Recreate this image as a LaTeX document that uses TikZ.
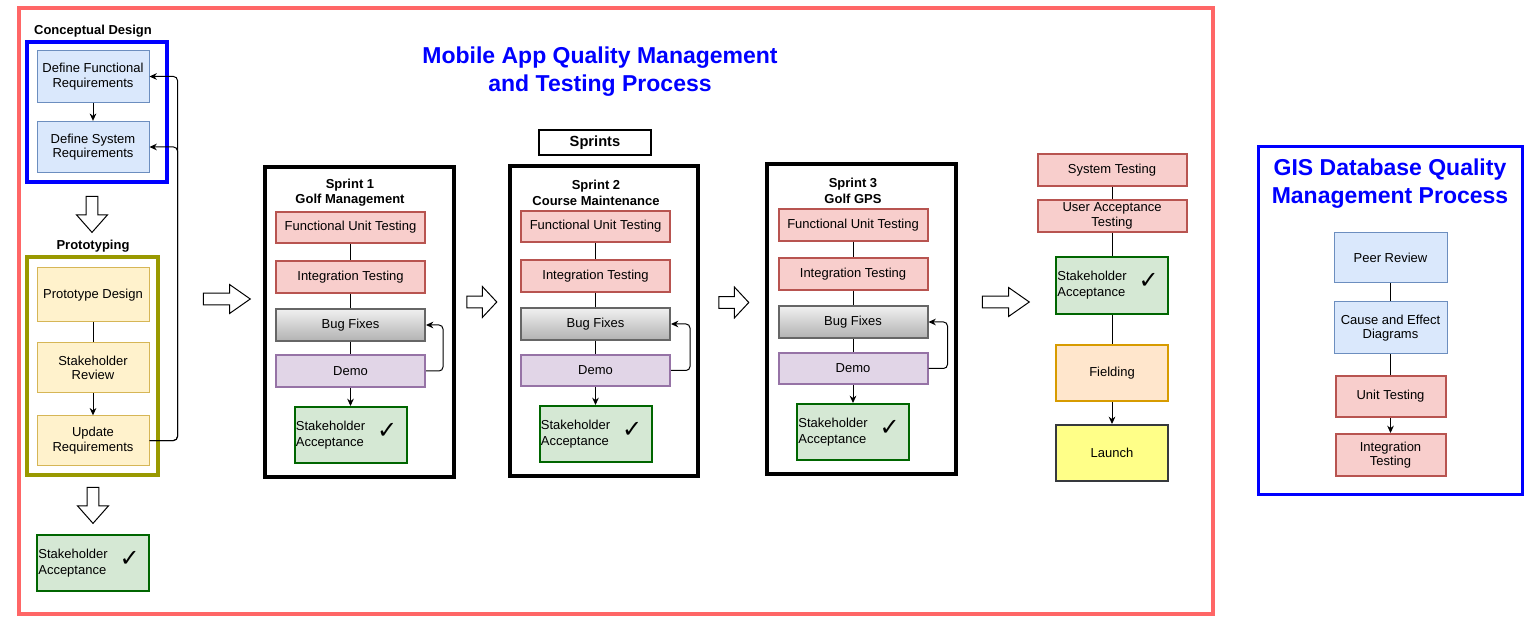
\documentclass[tikz,border=0pt]{standalone}
\usepackage{fontspec}
\setmainfont{Liberation Sans}
\newfontfamily\symfont{DejaVu Sans}
\usetikzlibrary{arrows.meta, shapes.arrows}
\definecolor{framered}{RGB}{255,102,102}
\definecolor{pureblue}{RGB}{0,0,255}
\definecolor{olivegrp}{RGB}{153,153,0}
\definecolor{bluefill}{RGB}{218,232,252}
\definecolor{blueline}{RGB}{108,142,191}
\definecolor{yelfill}{RGB}{255,242,204}
\definecolor{yelline}{RGB}{214,182,86}
\definecolor{redfill}{RGB}{248,206,204}
\definecolor{redline}{RGB}{184,84,80}
\definecolor{grnfill}{RGB}{213,232,212}
\definecolor{grnline}{RGB}{0,102,0}
\definecolor{purfill}{RGB}{225,213,231}
\definecolor{purline}{RGB}{150,115,166}
\definecolor{orgfill}{RGB}{255,230,204}
\definecolor{orgline}{RGB}{215,155,0}
\definecolor{lnchfill}{RGB}{255,255,136}
\definecolor{lnchline}{RGB}{54,57,61}
\definecolor{fixline}{RGB}{102,102,102}
\newcommand{\accepttext}{\makebox[82pt][l]{\begin{tabular}{@{}l@{}}Stakeholder\\Acceptance\end{tabular}\hfill{\symfont\fontsize{18}{18}\selectfont ✓}\hspace*{6pt}}}

\begin{document}
\begin{tikzpicture}[x=0.75pt, y=-0.75pt,
  bbox/.style={draw=blueline, fill=bluefill, line width=0.75pt,
    minimum width=84pt, minimum height=38.5pt, align=center,
    inner sep=1pt, font=\fontsize{9.75}{11}\selectfont},
  ybox/.style={bbox, draw=yelline, fill=yelfill},
  tbox/.style={draw=redline, fill=redfill, line width=1.5pt,
    minimum width=111.75pt, minimum height=23.5pt, align=center,
    inner sep=1pt, font=\fontsize{9.75}{11}\selectfont},
  fixbox/.style={tbox, draw=fixline, top color=gray!12, bottom color=gray!60},
  demobox/.style={tbox, draw=purline, fill=purfill},
  okbox/.style={draw=grnline, fill=grnfill, line width=1.5pt,
    minimum width=84pt, minimum height=42pt, inner sep=1pt,
    font=\fontsize{9.75}{12}\selectfont},
  grp/.style={font=\fontsize{9.75}{11.5}\selectfont\bfseries, align=center},
  ttl/.style={font=\fontsize{17.25}{21}\selectfont\bfseries, text=pureblue,
    align=center},
  ln/.style={line width=0.75pt},
  arw/.style={-{Stealth[length=5.5pt, width=5pt]}, line width=0.75pt},
  fb/.style={arw, rounded corners=3pt},
  bigarr/.style={single arrow, draw, fill=white, line width=0.75pt,
    inner sep=4.1pt, single arrow head extend=6.4pt,
    single arrow tip angle=70, minimum height=35.25pt},
  smallarr/.style={bigarr, minimum height=22.5pt,
    single arrow head extend=7.1pt, single arrow tip angle=94},
  bigdown/.style={bigarr, shape border rotate=270, minimum height=27pt,
    single arrow head extend=7.1pt, single arrow tip angle=83},
]
\useasboundingbox (0,0) rectangle (1531,623);

% ---- outer frame (mobile app) ----
\draw[framered, line width=3pt] (19,8) rectangle (1213,614);
\node[ttl] (app-ttl) at (600,72) {Mobile App Quality Management\\and Testing Process};

% ---- Conceptual design ----
\node[grp] (cd-lbl) at (93,31) {Conceptual Design};
\draw[pureblue, line width=3pt] (27,42) rectangle (167,182);
\node[bbox] (cd-func) at (93,76.5) {Define Functional\\Requirements};
\node[bbox] (cd-sys)  at (93,147) {Define System\\Requirements};
\draw[arw] (cd-func) -- (cd-sys);

\node[bigdown] (dn1) at (92,211) {};

% ---- Prototyping ----
\node[grp] (pt-lbl) at (93,246) {Prototyping};
\draw[olivegrp, line width=3pt] (27,257) rectangle (158,475);
\node[ybox, minimum height=40.5pt] (pt-des) at (93,295) {Prototype Design};
\node[ybox, minimum height=37.5pt] (pt-rev) at (93,368) {Stakeholder\\Review};
\node[ybox, minimum height=37pt]   (pt-upd) at (93,440.5) {Update\\Requirements};
\draw[ln]  (pt-des) -- (pt-rev);
\draw[arw] (pt-rev) -- (pt-upd);
\draw[fb] (pt-upd.east) -- ++(28,0) |- (cd-func.east);
\draw[fb] (pt-upd.east) -- ++(28,0) |- (cd-sys.east);

\node[bigdown] (dn2) at (93,502) {};
\node[okbox] (pt-ok) at (93,563) {\accepttext};

% ---- Sprints ----
\node[draw, line width=1.5pt, minimum width=84pt, minimum height=18.75pt,
  font=\fontsize{11}{13}\selectfont\bfseries] (sprints) at (595,142.5) {Sprints};

\node[bigarr] (arr1) at (222.5,299) {};

% sprint 1
\draw[line width=3pt] (265,167) rectangle (454,477);
\node[grp] (s1-lbl) at (350,193) {Sprint 1\\Golf Management};
\node[tbox]    (s1-fut)  at (350.5,227.5) {Functional Unit Testing};
\node[tbox]    (s1-int)  at (350.5,277) {Integration Testing};
\node[fixbox]  (s1-fix)  at (350.5,325) {Bug Fixes};
\node[demobox] (s1-demo) at (350.5,371) {Demo};
\node[okbox]   (s1-ok)   at (350.5,435) {\accepttext};
\draw[ln] (s1-fut) -- (s1-int);
\draw[ln] (s1-int) -- (s1-fix);
\draw[ln] (s1-fix) -- (s1-demo);
\draw[arw] (s1-demo) -- (s1-ok);
\draw[fb] (s1-demo.east) -- ++(17,0) |- (s1-fix.east);

\node[smallarr] (arr2) at (479,302) {};

% sprint 2
\draw[line width=3pt] (510,166) rectangle (698,476);
\node[grp] (s2-lbl) at (596,193) {Sprint 2\\Course Maintenance};
\node[tbox]    (s2-fut)  at (595.5,226.5) {Functional Unit Testing};
\node[tbox]    (s2-int)  at (595.5,276) {Integration Testing};
\node[fixbox]  (s2-fix)  at (595.5,324) {Bug Fixes};
\node[demobox] (s2-demo) at (595.5,370.5) {Demo};
\node[okbox]   (s2-ok)   at (595.5,434) {\accepttext};
\draw[ln] (s2-fut) -- (s2-int);
\draw[ln] (s2-int) -- (s2-fix);
\draw[ln] (s2-fix) -- (s2-demo);
\draw[arw] (s2-demo) -- (s2-ok);
\draw[fb] (s2-demo.east) -- ++(19,0) |- (s2-fix.east);

\node[smallarr] (arr3) at (731,302.5) {};

% sprint 3
\draw[line width=3pt] (767,164) rectangle (956,474);
\node[grp] (s3-lbl) at (853,191) {Sprint 3\\Golf GPS};
\node[tbox]    (s3-fut)  at (853,225) {Functional Unit Testing};
\node[tbox]    (s3-int)  at (853,274) {Integration Testing};
\node[fixbox]  (s3-fix)  at (853,322) {Bug Fixes};
\node[demobox] (s3-demo) at (853,368.5) {Demo};
\node[okbox]   (s3-ok)   at (853,432) {\accepttext};
\draw[ln] (s3-fut) -- (s3-int);
\draw[ln] (s3-int) -- (s3-fix);
\draw[ln] (s3-fix) -- (s3-demo);
\draw[arw] (s3-demo) -- (s3-ok);
\draw[fb] (s3-demo.east) -- ++(19,0) |- (s3-fix.east);

\node[bigarr] (arr4) at (1001.5,302) {};

% ---- Release ----
\node[tbox] (rl-sys) at (1112,170) {System Testing};
\node[tbox] (rl-uat) at (1112,216) {User Acceptance\\Testing};
\node[okbox, minimum height=42.75pt] (rl-ok) at (1112,285.5) {\accepttext};
\node[okbox, draw=orgline, fill=orgfill, align=center] (rl-fld) at (1112,373) {Fielding};
\node[okbox, draw=lnchline, fill=lnchfill, align=center] (rl-lnch) at (1112,453) {Launch};
\draw[ln] (rl-sys) -- (rl-uat);
\draw[ln] (rl-uat) -- (rl-ok);
\draw[ln] (rl-ok) -- (rl-fld);
\draw[arw] (rl-fld) -- (rl-lnch);

% ---- GIS database ----
\draw[pureblue, line width=2.25pt] (1258,147) rectangle (1522,494);
\node[ttl] (gis-ttl) at (1390,184) {GIS Database Quality\\Management Process};
\node[bbox, minimum width=84.75pt, minimum height=37.5pt] (gis-peer) at (1390.5,258) {Peer Review};
\node[bbox, minimum width=84.75pt, minimum height=39pt] (gis-cause) at (1390.5,328) {Cause and Effect\\Diagrams};
\node[tbox, minimum width=82.5pt, minimum height=30.75pt] (gis-unit) at (1390.5,396.5) {Unit Testing};
\node[tbox, minimum width=82.5pt, minimum height=31.5pt] (gis-int) at (1390.5,455) {Integration\\Testing};
\draw[ln] (gis-peer) -- (gis-cause);
\draw[ln] (gis-cause) -- (gis-unit);
\draw[arw] (gis-unit) -- (gis-int);

\end{tikzpicture}
\end{document}
